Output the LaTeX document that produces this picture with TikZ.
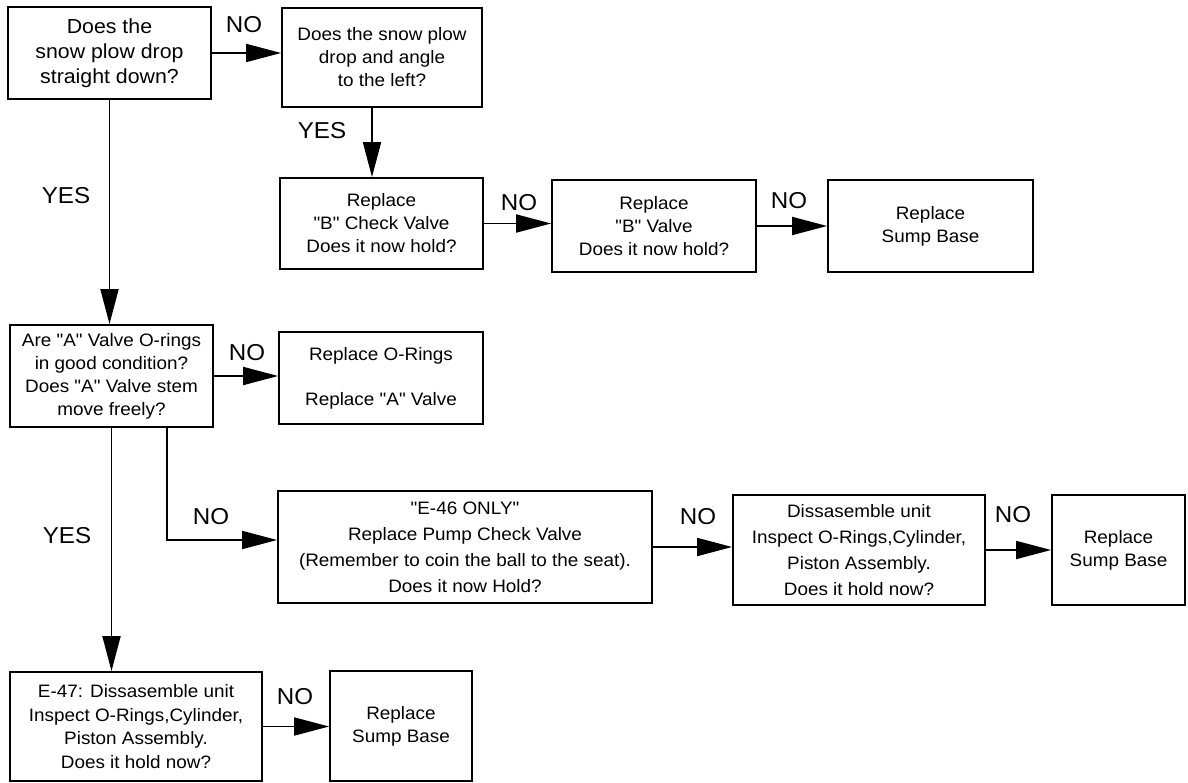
\documentclass[tikz,border=0pt]{standalone}
\usepackage{fontspec}
\setmainfont{Liberation Sans}[FakeStretch=1.05,Ligatures=TeXOff]
\usetikzlibrary{arrows.meta}
\begin{document}
\begin{tikzpicture}[x=1pt,y=-1pt,
  box/.style={draw,line width=1.8pt,rectangle,inner sep=0pt,align=center,
    font=\fontsize{18}{23}\selectfont},
  lbl/.style={font=\fontsize{23}{26}\selectfont,inner sep=0pt},
  arr/.style={line width=1.8pt,-{Triangle[length=35pt,width=18pt]}}]
\useasboundingbox (0,0) rectangle (1188,783);
% boxes
\node[box,minimum width=203pt,minimum height=92pt,font=\fontsize{20.3}{25}\selectfont] (b1) at (109.5,53)
  {Does the\\snow plow drop\\straight down?};
\node[box,minimum width=200pt,minimum height=99pt] (b2) at (382,57.5)
  {Does the snow plow\\drop and angle\\to the left?};
\node[box,minimum width=203pt,minimum height=91pt] (b3) at (381.5,223.5)
  {Replace\\"B" Check Valve\\Does it now hold?};
\node[box,minimum width=204pt,minimum height=92pt] (b4) at (654,226)
  {Replace\\"B" Valve\\Does it now hold?};
\node[box,minimum width=205pt,minimum height=92pt] (b5) at (930.5,226)
  {Replace\\Sump Base};
\node[box,minimum width=203pt,minimum height=102pt] (bA) at (111.5,376)
  {Are "A" Valve O-rings\\in good condition?\\Does "A" Valve stem\\move freely?};
\node[box,minimum width=204pt,minimum height=92pt] (bO) at (381,378)
  {Replace O-Rings\\[22pt]Replace "A" Valve};
\node[box,minimum width=374pt,minimum height=112pt,font=\fontsize{18}{26}\selectfont] (bE) at (465,547)
  {"E-46 ONLY"\\Replace Pump Check Valve\\(Remember to coin the ball to the seat).\\Does it now Hold?};
\node[box,minimum width=252pt,minimum height=110pt,font=\fontsize{18}{26}\selectfont] (bD) at (859,550)
  {Dissasemble unit\\Inspect O-Rings,Cylinder,\\Piston Assembly.\\Does it hold now?};
\node[box,minimum width=133pt,minimum height=110pt] (bS) at (1118.5,550)
  {Replace\\Sump Base};
\node[box,minimum width=252pt,minimum height=109pt,font=\fontsize{18}{23.5}\selectfont] (bF) at (136,726.5)
  {E-47: Dissasemble unit\\Inspect O-Rings,Cylinder,\\Piston Assembly.\\Does it hold now?};
\node[box,minimum width=142pt,minimum height=110pt] (bT) at (401,726)
  {Replace\\Sump Base};
% helper coordinates
\coordinate (k1) at (167,540);
\coordinate (k2) at (372,0);
% connectors
\draw[arr] (b1.east) -- (b1.east -| b2.west);
\draw[arr] (b2.south -| k2) -- (k2 |- b3.north);
\draw[arr] (b3.east) -- (b3.east -| b4.west);
\draw[arr] (b4.east) -- (b5.west);
\draw[arr] (b1.south) -- (b1.south |- bA.north);
\draw[arr] (bA.east) -- (bA.east -| bO.west);
\draw[arr] (bA.south -| k1) |- (k1 -| bE.west);
\draw[arr] (bE.east) -- (bE.east -| bD.west);
\draw[arr] (bD.east) -- (bD.east -| bS.west);
\draw[arr] (bA.south) -- (bA.south |- bF.north);
\draw[arr] (bF.east) -- (bF.east -| bT.west);
% labels
\node[lbl] (l1) at (244,25) {NO};
\node[lbl] (l2) at (322,131) {YES};
\node[lbl] (l3) at (66,196) {YES};
\node[lbl] (l4) at (519,203) {NO};
\node[lbl] (l5) at (789,201) {NO};
\node[lbl] (l6) at (247,353) {NO};
\node[lbl] (l7) at (67,536) {YES};
\node[lbl] (l8) at (211,517) {NO};
\node[lbl] (l9) at (698,517) {NO};
\node[lbl] (l10) at (1013,515) {NO};
\node[lbl] (l11) at (295,697) {NO};
\end{tikzpicture}
\end{document}
